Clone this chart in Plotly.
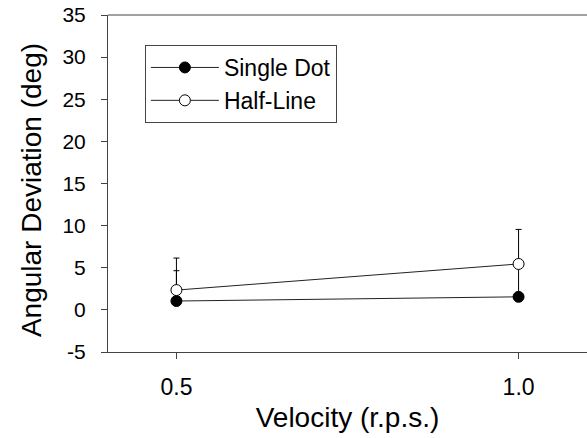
import plotly.graph_objects as go

velocity = [0.5, 1.0]
single_dot = [1.05, 1.55]
single_dot_err = [3.6, 3.9]
half_line = [2.35, 5.45]
half_line_err = [3.8, 4.1]

x_ticks = [0.5, 1.0]
x_tick_labels = ["0.5", "1.0"]
y_ticks = [-5, 0, 5, 10, 15, 20, 25, 30, 35]
y_tick_labels = ["-5", "0", "5", "10", "15", "20", "25", "30", "35"]

font_family = "Liberation Sans, Arial, sans-serif"

fig = go.Figure()
fig.add_trace(go.Scatter(
    x=velocity, y=single_dot, name="Single Dot", mode="lines+markers",
    line=dict(color="#222222", width=1),
    marker=dict(symbol="circle", size=11, color="black", line=dict(color="black", width=1)),
    error_y=dict(type="data", array=single_dot_err, arrayminus=[0, 0], color="black", thickness=1, width=3),
))
fig.add_trace(go.Scatter(
    x=velocity, y=half_line, name="Half-Line", mode="lines+markers",
    line=dict(color="#222222", width=1),
    marker=dict(symbol="circle", size=11, color="white", line=dict(color="black", width=1)),
    error_y=dict(type="data", array=half_line_err, arrayminus=[0, 0], color="black", thickness=1, width=3),
))

fig.add_shape(type="line", xref="paper", yref="paper", x0=0, x1=1, y0=1, y1=1,
              line=dict(color="#444444", width=1))

fig.add_annotation(
    text="Angular Deviation (deg)", textangle=-90,
    xref="paper", yref="paper", x=-0.161, y=0.48,
    xanchor="center", yanchor="middle", showarrow=False,
    font=dict(size=28, family=font_family, color="black"),
)

fig.update_layout(
    width=587, height=438,
    margin=dict(l=108, r=0, t=15, b=86),
    paper_bgcolor="white", plot_bgcolor="white",
    font=dict(family=font_family, color="black", size=20),
    showlegend=True,
    legend=dict(
        x=0.077, y=0.911, xanchor="left", yanchor="top",
        bordercolor="#444444", borderwidth=1, bgcolor="white",
        font=dict(size=23, family=font_family),
        itemwidth=68,
    ),
    xaxis=dict(
        range=[0.4, 1.1], tickvals=x_ticks, ticktext=x_tick_labels,
        showline=True, linecolor="#444444", linewidth=1, mirror=False,
        ticks="outside", ticklen=6, tickcolor="#444444",
        showgrid=False, zeroline=False,
        ticklabelstandoff=8,
        title=dict(text="Velocity (r.p.s.)", font=dict(size=28), standoff=8),
        tickfont=dict(size=23),
    ),
    yaxis=dict(
        range=[-5, 35], tickvals=y_ticks, ticktext=y_tick_labels,
        showline=True, linecolor="#444444", linewidth=1,
        ticks="outside", ticklen=6, tickcolor="#444444",
        showgrid=False, zeroline=False,
        ticklabelstandoff=11,
        tickfont=dict(size=21),
    ),
)

fig.write_html("out.html")
